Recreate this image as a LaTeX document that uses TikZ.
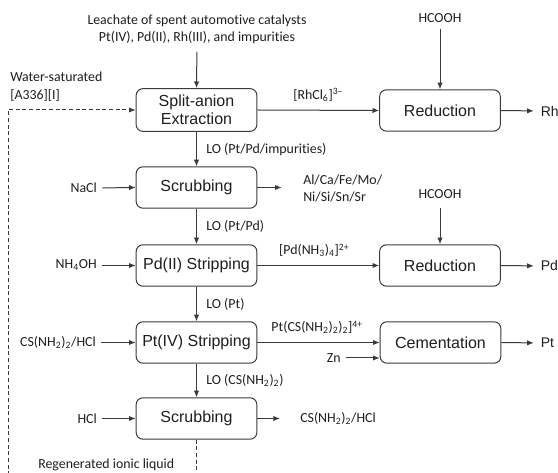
\documentclass[tikz,border=0pt]{standalone}
\usepackage{fontspec}
\setmainfont{Carlito}[Ligatures=NoCommon]
\newfontfamily\boxfont{Liberation Sans}
\usetikzlibrary{arrows.meta}
\definecolor{linec}{HTML}{3A3A3A}
\definecolor{txtc}{HTML}{1E1E1E}
\tikzset{
  proc/.style={draw=linec, line width=0.75pt, rounded corners=5pt,
    minimum width=90.5pt, minimum height=31pt, inner sep=0pt,
    align=center, text=txtc, font=\boxfont\fontsize{12}{13.6}\selectfont},
  lbl/.style={inner sep=0pt, text=txtc, font=\fontsize{10.4}{13}\selectfont},
  prod/.style={inner sep=0pt, text=txtc, font=\boxfont\fontsize{10.5}{12}\selectfont},
  flow/.style={draw=linec, line width=0.75pt, -{Latex[length=5pt,width=4pt]}},
  recycle/.style={flow, dash pattern=on 3pt off 2pt}
}
\begin{document}
\begin{tikzpicture}[x=0.75pt,y=-0.75pt]
\useasboundingbox (0,0) rectangle (558,473);
\clip (0,0) rectangle (558,473);

% process units
\node[proc, minimum height=32pt] (ext) at (196.5,110) {Split-anion\\Extraction};
\node[proc] (red1) at (440,110.5) {Reduction};
\node[proc] (scr1) at (196.5,187.5) {Scrubbing};
\node[proc] (pds)  at (196.5,265.5) {Pd(II) Stripping};
\node[proc] (red2) at (440,265.5) {Reduction};
\node[proc] (pts)  at (196.5,342.5) {Pt(IV) Stripping};
\node[proc] (cem)  at (440.5,342.5) {Cementation};
\node[proc] (scr2) at (196.5,418.5) {Scrubbing};

% feed
\node[lbl, align=center] (feed) at (197,29)
  {Leachate of spent automotive catalysts\\Pt(IV), Pd(II), Rh(III), and impurities};
\draw[flow, shorten <=6pt] (feed.south) -- (ext.north);

% rhodium branch
\node[lbl] (hc1) at (440,18) {HCOOH};
\draw[flow, shorten <=5pt] (hc1.south) -- (red1.north);
\draw[flow] (ext.east) -- node[lbl, above=6pt] {[RhCl\textsubscript{6}]\textsuperscript{3–}} (red1.west);
\node[prod, anchor=west] (rh) at (540.5,111) {Rh};
\draw[flow, shorten >=5pt] (red1.east) -- (rh.west);

% recycled extractant
\node[lbl, align=left, anchor=west] (ws) at (10,86.5) {Water-saturated\\{}[A336][I]};

% first scrubbing
\draw[flow] (ext.south) -- node[lbl, anchor=west, xshift=7pt] {LO (Pt/Pd/impurities)} (scr1.north);
\node[lbl, anchor=east] (nacl) at (97,188) {NaCl};
\draw[flow, shorten <=4pt] (nacl.east) -- (scr1.west);
\node[lbl, align=left, anchor=west] (imp) at (303,188.5) {Al/Ca/Fe/Mo/\\Ni/Si/Sn/Sr};
\draw[flow, shorten >=16pt] (scr1.east) -- (scr1.east -| imp.west);

% palladium branch
\draw[flow] (scr1.south) -- node[lbl, anchor=west, xshift=7pt] {LO (Pt/Pd)} (pds.north);
\node[lbl, anchor=east] (nh4oh) at (97,265.5) {NH\textsubscript{4}OH};
\draw[flow, shorten <=4pt] (nh4oh.east) -- (pds.west);
\node[lbl] (hc2) at (440,194) {HCOOH};
\draw[flow, shorten <=7pt] (hc2.south) -- (red2.north);
\draw[flow] (pds.east) -- node[lbl, above=6pt, xshift=-3pt] {[Pd(NH\textsubscript{3})\textsubscript{4}]\textsuperscript{2+}} (red2.west);
\node[prod, anchor=west] (pd) at (540.5,266) {Pd};
\draw[flow, shorten >=5pt] (red2.east) -- (pd.west);

% platinum branch
\draw[flow] (pds.south) -- node[lbl, anchor=west, xshift=7pt] {LO (Pt)} (pts.north);
\node[lbl, anchor=east] (tu) at (96,342.5) {CS(NH\textsubscript{2})\textsubscript{2}/HCl};
\draw[flow, shorten <=4pt] (tu.east) -- (pts.west);
\draw[flow] (pts.east) -- node[lbl, above=6pt, xshift=-1pt] {Pt(CS(NH\textsubscript{2})\textsubscript{2})\textsubscript{2}]\textsuperscript{4+}} (cem.west);
\node[lbl, anchor=east] (zn) at (341,358) {Zn};
\draw[flow, shorten <=4pt] (zn.east) -- (zn.east -| cem.west);
\node[prod, anchor=west] (pt) at (540.5,343) {Pt};
\draw[flow, shorten >=5pt] (cem.east) -- (pt.west);

% final scrubbing
\draw[flow] (pts.south) -- node[lbl, anchor=west, xshift=7pt] {LO (CS(NH\textsubscript{2})\textsubscript{2})} (scr2.north);
\node[lbl, anchor=east] (hcl) at (97,418.5) {HCl};
\draw[flow, shorten <=4pt] (hcl.east) -- (scr2.west);
\node[lbl, anchor=west] (strip) at (300,418.5) {CS(NH\textsubscript{2})\textsubscript{2}/HCl};
\draw[flow, shorten >=15pt] (scr2.east) -- (strip.west);

% regenerated ionic liquid returned to extraction
\node[lbl, anchor=west] (regen) at (38,465) {Regenerated ionic liquid};
\coordinate (loopA) at (196.5,490);
\coordinate (loopB) at (8,490);
\draw[recycle] (scr2.south) -- (loopA) -- (loopB) |- (ext.west);
\end{tikzpicture}
\end{document}
